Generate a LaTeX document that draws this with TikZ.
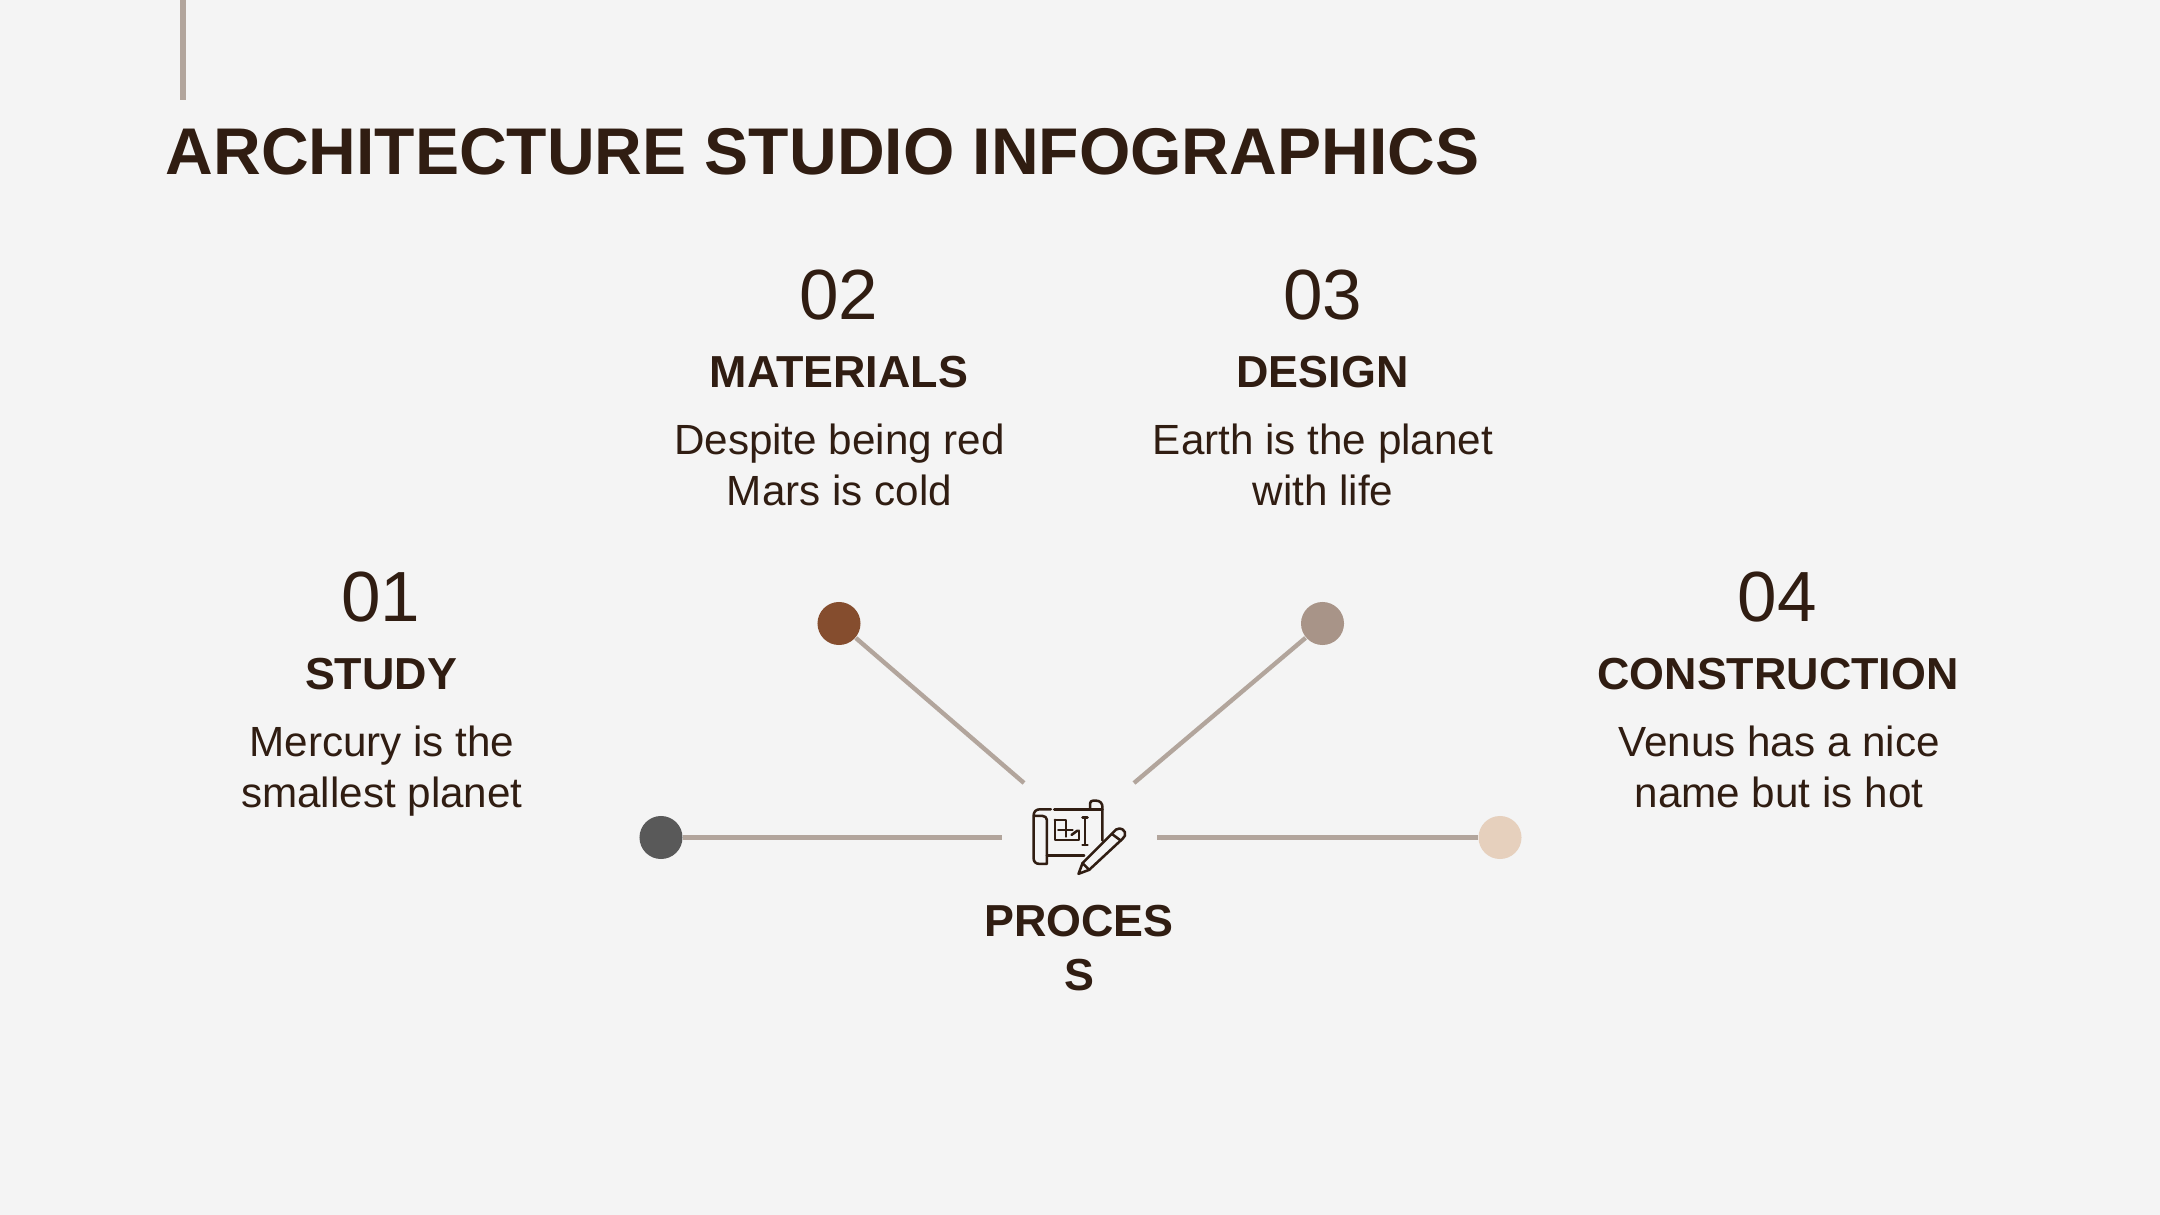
\documentclass[tikz,border=0pt]{standalone}
\usepackage{fontspec}
\setmainfont{Liberation Sans}
\definecolor{bgcol}{HTML}{F4F4F4}
\definecolor{inkcol}{HTML}{301D12}
\definecolor{linecol}{HTML}{B2A59C}
\definecolor{browncol}{HTML}{854D2E}
\definecolor{greycol}{HTML}{595959}
\definecolor{taupecol}{HTML}{A89488}
\definecolor{peachcol}{HTML}{E6D0BD}
\tikzset{
    dot/.style = {shape=circle, inner sep=0pt, minimum size=0.43cm},
    link/.style = {linecol, line width=1.25pt},
    titlelabel/.style = {anchor=base west, inner sep=0pt, text=inkcol, font=\fontsize{18.78}{22}\selectfont\bfseries},
    numlabel/.style = {anchor=base, inner sep=0pt, text=inkcol, font=\fontsize{20.2}{24}\selectfont},
    headlabel/.style = {anchor=base, inner sep=0pt, text=inkcol, font=\fontsize{12.75}{15}\selectfont\bfseries},
    bodylabel/.style = {anchor=center, inner sep=0pt, align=center, text=inkcol, font=\fontsize{12}{14.4}\selectfont},
    iconline/.style = {inkcol, line width=0.72pt, line cap=round, line join=round}
}
\begin{document}
\begin{tikzpicture}[x=0.01cm, y=-0.01cm]
    \fill[bgcol] (0, 0) rectangle (2160, 1215);
    \useasboundingbox (0, 0) rectangle (2160, 1215);

    \coordinate (barTop) at (183, 0);
    \coordinate (barEnd) at (183, 100);
    \draw[linecol, line width=1.6pt] (barTop) to (barEnd);

    \node[titlelabel] (title) at (165, 174) {ARCHITECTURE STUDIO INFOGRAPHICS};

    \node[dot, fill=greycol] (D1) at (661, 837.5) {};
    \node[dot, fill=browncol] (D2) at (839, 623.5) {};
    \node[dot, fill=taupecol] (D3) at (1322.5, 623.5) {};
    \node[dot, fill=peachcol] (D4) at (1500, 837.5) {};

    \coordinate (E1) at (1002, 837.5);
    \coordinate (E2) at (1024, 783);
    \coordinate (E3) at (1134, 783);
    \coordinate (E4) at (1157, 837.5);

    \draw[link] (D1) to (E1);
    \draw[link] (D2) to (E2);
    \draw[link] (D3) to (E3);
    \draw[link] (D4) to (E4);

    \node[numlabel] (N1) at (381, 621) {01};
    \node[headlabel] (H1) at (381, 689.5) {STUDY};
    \node[bodylabel] (B1) at (382, 772) {\strut Mercury is the\\\strut smallest planet};

    \node[numlabel] (N2) at (839, 319) {02};
    \node[headlabel] (H2) at (839, 387.5) {MATERIALS};
    \node[bodylabel] (B2) at (839.5, 470) {\strut Despite being red\\\strut Mars is cold};

    \node[numlabel] (N3) at (1322.5, 319) {03};
    \node[headlabel] (H3) at (1322.5, 387.5) {DESIGN};
    \node[bodylabel] (B3) at (1323, 470) {\strut Earth is the planet\\\strut with life};

    \node[numlabel] (N4) at (1777, 621) {04};
    \node[headlabel] (H4) at (1778, 689.5) {CONSTRUCTION};
    \node[bodylabel] (B4) at (1779, 772) {\strut Venus has a nice\\\strut name but is hot};

    \node[headlabel, anchor=center, align=center, font=\fontsize{12.75}{15.4}\selectfont\bfseries] (P) at (1079, 948) {PROCES\\S};

    \begin{scope}[shift={(981, 770)}, x=0.00333cm, y=-0.00333cm, iconline]
        \draw (210, 118) -- (178, 118) .. controls (165, 118) and (158, 125) .. (158, 138) -- (158, 265)
            .. controls (158, 276) and (165, 282) .. (175, 282) -- (198, 282) -- (198, 150)
            .. controls (198, 143) and (192, 138) .. (185, 138) -- (158, 138);
        \draw (198, 257) -- (310, 257);
        \draw (220, 118) -- (365, 118);
        \draw (328, 118) -- (328, 100) .. controls (328, 95) and (332, 92) .. (337, 92) -- (345, 92)
            .. controls (358, 92) and (365, 100) .. (365, 112) -- (365, 212);
        \draw (222, 150) -- (255, 150) -- (255, 180) -- (275, 180);
        \draw (222, 150) -- (222, 210) -- (295, 210) -- (295, 182);
        \draw (232, 180) -- (255, 180) -- (255, 200);
        \draw (272, 195) -- (290, 182);
        \draw (313, 142) -- (313, 225);
        \draw (305, 142) -- (320, 142);
        \draw (305, 225) -- (320, 225);
        \draw (293, 312) -- (305, 280) -- (397, 188) .. controls (407, 172) and (425, 172) .. (432, 186)
            .. controls (436, 195) and (432, 200) .. (425, 207) -- (325, 300) -- cycle;
        \draw (305, 280) -- (325, 300);
        \draw (393, 192) -- (420, 212);
    \end{scope}
\end{tikzpicture}
\end{document}
